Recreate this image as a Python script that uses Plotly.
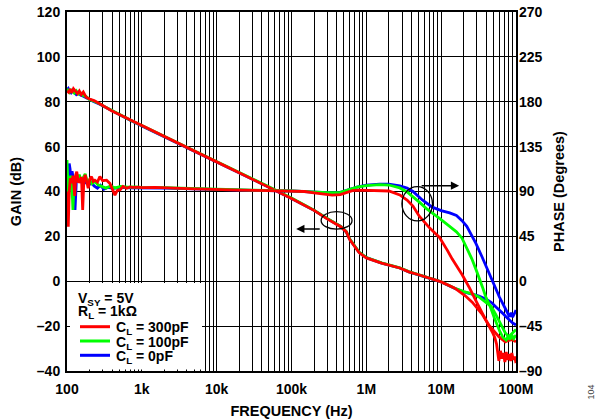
import plotly.graph_objects as go

# ---- open-loop gain (dB) ----
gain_red_f = [100, 105, 110, 116, 122, 130, 138, 146, 155, 165, 180, 200, 230, 270, 330, 400, 500, 700,
              1e3, 2e3, 5e3, 1e4, 2e4, 5e4, 1e5, 2e5, 3e5, 4.6e5, 5.4e5, 6e5, 8e5, 1e6, 1.6e6, 2.8e6,
              3.7e6, 5e6, 7e6, 1e7, 1.5e7, 2.1e7, 2.6e7, 3.5e7, 4.4e7, 5.2e7, 5.9e7, 6.6e7, 7.2e7, 8e7,
              8.8e7, 1e8]
gain_red = [84.8, 84.2, 85.6, 84.0, 85.8, 84.4, 83.6, 84.8, 83.2, 84.3, 82.0, 81.2, 80.5, 79.2, 77.4, 75.9,
            74.3, 71.9, 69.4, 64.6, 58.2, 53.2, 48.4, 42.0, 36.9, 31.6, 27.8, 24.2, 22.0, 18.6, 12.8, 10.4,
            8.1, 5.9, 4.2, 2.9, 1.5, -0.3, -3.0, -6.5, -9.3, -14.5, -19.8, -22.5, -24.7, -26.0, -27.0, -26.3,
            -26.0, -27.0]

gain_gb_f = [100, 104, 108, 113, 118, 125, 133, 142, 152, 165, 180, 200, 230, 270, 330, 400, 500, 700,
             1e3, 2e3, 5e3, 1e4, 2e4, 5e4, 1e5, 2e5, 3e5, 4.6e5, 5.4e5, 6e5, 8e5, 1e6, 1.6e6, 2.8e6,
             3.7e6, 5e6, 7e6, 1e7, 1.5e7, 2e7, 2.6e7, 3.2e7, 4e7, 4.7e7, 5.4e7, 6e7, 6.6e7, 7.2e7, 8e7,
             9e7, 1e8]
gain_green = [85.8, 85.0, 84.2, 85.2, 84.6, 83.8, 84.9, 83.4, 83.9, 82.8, 82.3, 81.0, 80.2, 79.2, 77.5, 76.0,
              74.3, 71.9, 69.4, 64.6, 58.2, 53.3, 48.5, 42.1, 37.1, 31.7, 28.0, 24.4, 22.1, 18.8, 13.0, 10.6,
              8.2, 6.0, 4.3, 2.9, 1.6, -0.2, -3.0, -4.6, -5.6, -7.0, -9.5, -11.3, -15.0, -18.0, -21.0, -23.0,
              -24.7, -23.2, -21.5]
gain_blue = [85.3, 85.9, 84.6, 84.0, 85.1, 84.3, 83.2, 84.1, 83.0, 82.5, 81.8, 81.1, 80.0, 79.0, 77.4, 75.8,
             74.1, 71.7, 69.2, 64.4, 58.0, 53.1, 48.3, 41.9, 36.9, 31.6, 27.9, 24.3, 22.0, 18.7, 12.9, 10.5,
             8.1, 5.9, 4.2, 2.8, 1.5, -0.3, -3.1, -4.7, -5.7, -6.6, -8.0, -9.5, -11.5, -12.8, -14.2, -15.5,
             -17.0, -18.6, -19.5]

# ---- phase (degrees) ----
phase_red_f = [100, 102, 104, 107, 111, 115, 120, 127, 131, 135, 142, 150, 156, 162, 168, 175, 183, 192, 202,
               213, 224, 236, 255, 275, 300, 338, 374, 400, 437, 470, 510, 560, 625, 700, 760, 900, 1e3,
               1.5e3, 2e3, 3e3, 5e3, 7e3, 1e4, 2e4, 5e4, 1e5, 1.5e5, 2e5, 2.8e5, 3.5e5, 4.5e5, 5.5e5, 6.5e5,
               8e5, 1e6, 1.5e6, 2e6, 2.8e6, 3.5e6, 4.2e6, 5.1e6, 6.9e6, 9.5e6, 1.2e7, 1.4e7, 1.9e7, 2.4e7,
               3e7, 3.55e7, 4.2e7, 4.8e7, 5.2e7, 5.5e7, 5.7e7, 5.9e7, 6.2e7, 6.5e7, 6.8e7, 7.1e7, 7.4e7,
               7.7e7, 8.1e7, 8.5e7, 8.8e7, 9.2e7, 9.6e7, 1e8]
phase_red = [90, 67.5, 54.7, 90, 103.5, 98.3, 105.8, 85.5, 106.9, 109.8, 99, 101.3, 104.6, 71.6, 101.3, 106.7,
             99, 93.2, 102.4, 104.9, 100.1, 101.3, 99.5, 104.9, 100.8, 101.3, 98.1, 93.4, 86.4, 91.1, 91.6,
             95, 93.2, 94.5, 94.1, 94.3, 93.8, 94.1, 93.6, 93.6, 92.7, 92.3, 91.8, 91.4, 90.9, 90.5, 90,
             88.7, 86.9, 86.4, 86.9, 88.9, 90.9, 91.4, 91.1, 90.7, 90.5, 86.6, 81.5, 75.4, 65.3, 54, 43.9,
             31.5, 22.5, 6.8, -6.8, -21.4, -32.6, -42.8, -50.6, -56.3, -63, -74.3, -79.9, -69.8, -77.6, -72,
             -81, -70.9, -78.8, -73.1, -79.9, -72, -78.8, -75.4, -82.1]

phase_green_f = [100, 101.5, 103, 105, 108, 112, 116, 120, 124, 130, 138, 146, 155, 165, 175, 188, 200, 215,
                 235, 260, 290, 330, 380, 440, 520, 650, 800, 1e3, 2e3, 5e3, 1e4, 3e4, 1e5, 2e5, 3e5, 4.5e5,
                 6e5, 7.5e5, 1e6, 1.5e6, 2e6, 2.8e6, 3.5e6, 4.2e6, 5.2e6, 6.3e6, 8e6, 9.5e6, 1.26e7, 1.6e7,
                 1.9e7, 2.2e7, 2.57e7, 2.9e7, 3.2e7, 3.6e7, 4e7, 4.5e7, 5.1e7, 5.6e7, 6.1e7, 6.7e7, 7.4e7,
                 7.8e7, 8.3e7, 8.8e7, 9.3e7, 1e8]
phase_green = [121.5, 108, 90, 81, 94.5, 105.8, 99, 71.6, 99, 103.5, 101.3, 106.9, 100.1, 103.5, 107.6, 99,
               101.7, 97.9, 100.1, 96.8, 95.2, 93.4, 95.4, 93.6, 95, 94.3, 94.5, 94.1, 93.8, 92.9, 92.3,
               91.4, 90.7, 89.6, 88.9, 89.1, 91.8, 94.3, 95.9, 96.8, 96.5, 93.6, 89.6, 84.8, 78.8, 73.1,
               67.5, 63, 55.8, 49.5, 43.2, 33.8, 22.5, 12.4, 4.5, -6.8, -16.9, -24.8, -36, -43.9, -50.6,
               -56.3, -59, -55.1, -58.5, -54, -57.4, -54]

phase_blue_f = [100, 101.5, 103, 105, 107, 110, 113, 117, 122, 128, 133, 140, 148, 157, 166, 176, 186, 198,
                212, 230, 255, 280, 310, 350, 420, 500, 700, 1e3, 2e3, 5e3, 1e4, 3e4, 1e5, 2e5, 3e5, 4.5e5,
                6e5, 7.5e5, 1e6, 1.5e6, 2e6, 2.8e6, 3.5e6, 4.2e6, 5.6e6, 7.6e6, 1e7, 1.3e7, 1.6e7, 1.9e7,
                2.2e7, 2.6e7, 2.9e7, 3.5e7, 4e7, 4.6e7, 5.2e7, 6e7, 6.9e7, 7.6e7, 8.2e7, 8.6e7, 9e7, 9.5e7,
                1e8]
phase_blue = [112.5, 117, 72, 105.8, 118.1, 112.5, 99, 110.3, 101.3, 71.6, 99, 104.6, 102.4, 99, 102.4, 97.9,
              101.3, 96.8, 99, 95.6, 93.4, 96.3, 92.3, 94.1, 93.2, 94.1, 93.6, 93.6, 93.4, 92.7, 92, 91.1,
              90.5, 89.3, 88.9, 89.1, 91.8, 94.5, 96.3, 97.4, 97.4, 95.6, 93.4, 90, 81.5, 74.3, 70.9, 68.6,
              65.9, 60.8, 55.1, 45, 38.3, 24.8, 14.6, 3.4, -5.6, -15.8, -24.8, -30.4, -35.6, -31.5, -36,
              -32.6, -28.8]

x_tick_vals = [1e2, 1e3, 1e4, 1e5, 1e6, 1e7, 1e8]
x_tick_text = ["100", "1k", "10k", "100k", "1M", "10M", "100M"]
gain_ticks = [-40, -20, 0, 20, 40, 60, 80, 100, 120]
gain_tick_text = ["\u201340", "\u201320", "0", "20", "40", "60", "80", "100", "120"]
phase_ticks = [-90, -45, 0, 45, 90, 135, 180, 225, 270]
phase_tick_text = ["\u201390", "\u201345", "0", "45", "90", "135", "180", "225", "270"]

RED, GREEN, BLUE = "#ff0000", "#00ff00", "#0000ff"
FONT = "Liberation Sans, Arial, Helvetica, sans-serif"
LW = 2.8

fig = go.Figure()
series = [
    (gain_gb_f, gain_blue, phase_blue_f, phase_blue, BLUE),
    (gain_gb_f, gain_green, phase_green_f, phase_green, GREEN),
    (gain_red_f, gain_red, phase_red_f, phase_red, RED),
]
for gf, gv, pf, pv, col in series:
    fig.add_trace(go.Scatter(x=gf, y=gv, mode="lines", line=dict(color=col, width=LW),
                             showlegend=False, hoverinfo="skip"))
for gf, gv, pf, pv, col in series:
    fig.add_trace(go.Scatter(x=pf, y=pv, mode="lines", yaxis="y2", line=dict(color=col, width=LW),
                             showlegend=False, hoverinfo="skip"))

minor_vals = [k * 10 ** d for d in range(2, 8) for k in range(2, 10)]

fig.update_layout(
    width=608, height=419,
    margin=dict(l=67, r=92, t=12, b=48, autoexpand=False),
    paper_bgcolor="white", plot_bgcolor="white",
    font=dict(family=FONT, size=14, color="black", weight="bold"),
    showlegend=False,
    xaxis=dict(
        type="log", range=[2, 8], automargin=False,
        tickmode="array", tickvals=x_tick_vals, ticktext=x_tick_text,
        showgrid=True, gridcolor="black", gridwidth=1,
        minor=dict(tickmode="array", tickvals=minor_vals, showgrid=True, gridcolor="black", gridwidth=1),
        showline=True, linecolor="black", linewidth=2, mirror=True,
        ticks="", ticklabelstandoff=4, zeroline=False,
        title=dict(text="FREQUENCY (Hz)", standoff=12, font=dict(size=14.5)),
    ),
    yaxis=dict(
        range=[-40, 120], automargin=False, tickmode="array", tickvals=gain_ticks, ticktext=gain_tick_text,
        showgrid=True, gridcolor="black", gridwidth=1, zeroline=False,
        showline=True, linecolor="black", linewidth=2, mirror=True,
        ticks="", ticklabelstandoff=2,
        title=dict(text="GAIN (dB)", standoff=12, font=dict(size=14.5)),
    ),
    yaxis2=dict(
        range=[-90, 270], automargin=False, overlaying="y", side="right",
        tickmode="array", tickvals=phase_ticks, ticktext=phase_tick_text,
        showgrid=False, zeroline=False, showline=False,
        ticks="", ticklabelstandoff=2,
        title=dict(text="PHASE (Degrees)", standoff=12, font=dict(size=14.5)),
    ),
)

# marker ellipses around the gain and phase curves
fig.add_shape(type="circle", xref="x", yref="y", x0=10 ** 5.396, x1=10 ** 5.809, y0=23.2, y1=31.0,
              line=dict(color="black", width=1.3))
fig.add_shape(type="circle", xref="x", yref="y", x0=10 ** 6.476, x1=10 ** 6.884, y0=26.9, y1=42.15,
              line=dict(color="black", width=1.3))
# arrows pointing to the relevant axis
fig.add_annotation(x=5.063, y=23.3, xref="x", yref="y", text="", showarrow=True, ax=25, ay=0,
                   arrowhead=2, arrowsize=1.1, arrowwidth=1.5, arrowcolor="black")
fig.add_annotation(x=7.24, y=42.6, xref="x", yref="y", text="", showarrow=True, ax=-39, ay=0,
                   arrowhead=2, arrowsize=1.1, arrowwidth=1.5, arrowcolor="black")

# legend block
def px_x(p):
    return (p - 67) / 449.0

def px_y(p):
    return (371 - p) / 359.0

fig.add_shape(type="rect", xref="paper", yref="paper", x0=px_x(70), x1=px_x(202), y0=px_y(369.5),
              y1=px_y(283), fillcolor="white", line=dict(width=0), layer="above")
for txt, yy in [("V<sub>SY</sub> = 5V", 299), ("R<sub>L</sub> = 1k\u03a9", 312)]:
    fig.add_annotation(x=px_x(76), y=px_y(yy), xref="paper", yref="paper", text=txt, showarrow=False,
                       xanchor="left", yanchor="middle", font=dict(size=14))
for label, col, yy in [("C<sub>L</sub> = 300pF", RED, 326.7), ("C<sub>L</sub> = 100pF", GREEN, 341),
                       ("C<sub>L</sub> = 0pF", BLUE, 355.3)]:
    fig.add_shape(type="line", xref="paper", yref="paper", x0=px_x(80), x1=px_x(110), y0=px_y(yy),
                  y1=px_y(yy), line=dict(color=col, width=3), layer="above")
    fig.add_annotation(x=px_x(114), y=px_y(yy + 1.5), xref="paper", yref="paper", text=label,
                       showarrow=False, xanchor="left", yanchor="middle", font=dict(size=14))

fig.add_annotation(x=px_x(597), y=px_y(402), xref="paper", yref="paper", text="104", showarrow=False,
                   textangle=-90, font=dict(size=9, color="#444444", weight="normal"))

fig.write_html("out.html")
